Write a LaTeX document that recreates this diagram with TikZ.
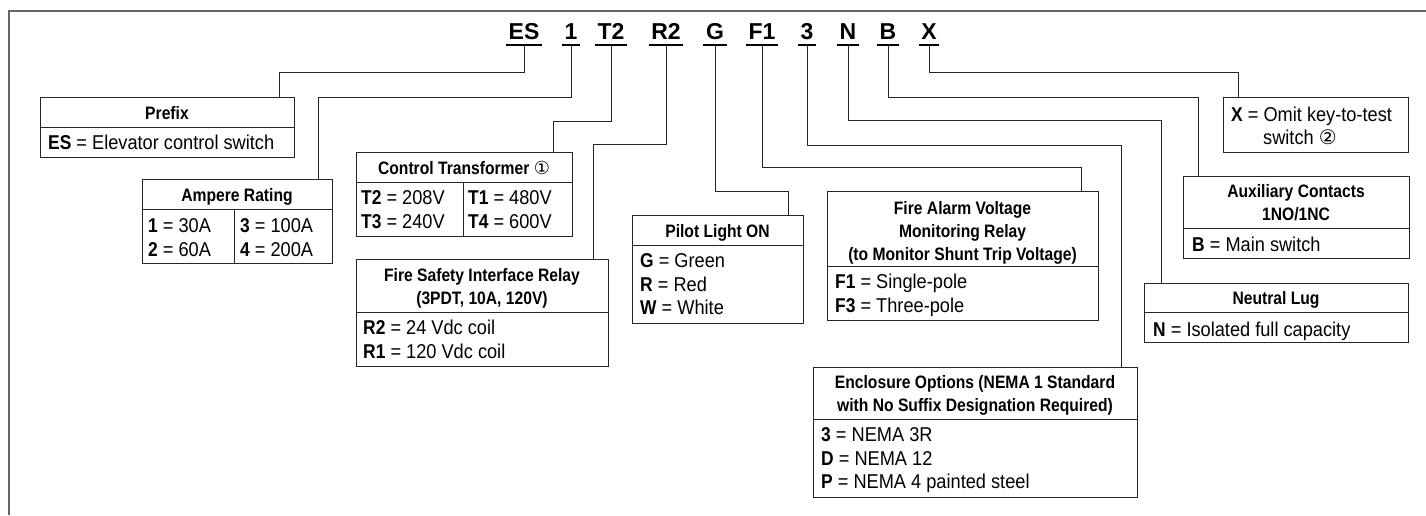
\documentclass[tikz,border=0pt]{standalone}
\usepackage{fontspec}
\setmainfont{Liberation Sans}[UprightFeatures={FakeStretch=0.91},BoldFeatures={FakeStretch=0.87}]
\newfontfamily\codefont{Liberation Sans}
\newfontfamily\circfont{DejaVu Sans}

\begin{document}
\fontsize{20}{23.5}\selectfont
\begin{tikzpicture}[x=1pt,y=-1pt,
  box/.style={draw=black!85,line width=1pt,inner sep=0pt,anchor=north west},
  head/.style={font=\fontsize{18}{23}\selectfont\bfseries,inner sep=0pt,align=center},
  item/.style={inner sep=0pt,anchor=north west,align=left},
  code/.style={font=\codefont\bfseries\fontsize{23}{26}\selectfont,anchor=south,inner xsep=2.5pt,inner ysep=5pt,text depth=0pt},
  link/.style={line width=1pt,black!85}]
  \useasboundingbox (0,0) rectangle (1426,515);
  \draw[line width=2.2pt,black!60] (1426,11) -- (9,11) -- (9,515);

  % catalog number
  \foreach \k/\x in {ES/524,1/571,T2/611,R2/666,G/715,F1/762,3/807,N/848,B/888,X/929}
    {\node[code] (c\k) at (\x,45) {\k};
     \draw[line width=2pt] (c\k.south west) -- (c\k.south east);}

  % option boxes
  \node[box,minimum width=254pt,minimum height=60pt] (prefix) at (40,97) {};
  \node[box,minimum width=190pt,minimum height=84pt] (amp) at (142,179) {};
  \node[box,minimum width=216pt,minimum height=84pt] (ct) at (356,152) {};
  \node[box,minimum width=252pt,minimum height=107pt] (fsr) at (356,259) {};
  \node[box,minimum width=171pt,minimum height=108pt] (pilot) at (632,215) {};
  \node[box,minimum width=271pt,minimum height=129pt] (alarm) at (827,191) {};
  \node[box,minimum width=324pt,minimum height=130pt] (encl) at (813,367) {};
  \node[box,minimum width=264pt,minimum height=59pt] (lug) at (1144,283) {};
  \node[box,minimum width=226pt,minimum height=82pt] (aux) at (1183,176) {};
  \node[box,minimum width=185pt,minimum height=55pt] (omit) at (1223,97) {};

  % header rules and column rules
  \draw[link] (40,127) -- (294,127);
  \draw[link] (142,209) -- (332,209); \draw[link] (234,209) -- (234,263);
  \draw[link] (356,182) -- (572,182); \draw[link] (463,182) -- (463,236);
  \draw[link] (356,312) -- (608,312);
  \draw[link] (632,245) -- (803,245);
  \draw[link] (827,266) -- (1098,266);
  \draw[link] (813,419) -- (1137,419);
  \draw[link] (1144,312) -- (1408,312);
  \draw[link] (1183,228) -- (1409,228);

  % texts
  \node[head,anchor=base] (prefixH) at (167,119.5) {Prefix};
  \node[item,anchor=base west] (prefixI) at (48,149.3) {\textbf{ES} = Elevator control switch};
  \node[head,anchor=base] (ampH) at (237,201.5) {Ampere Rating};
  \node[item] (ampL) at (148,218.8) {\textbf{1} = 30A\\\textbf{2} = 60A};
  \node[item] (ampR) at (240,218.8) {\textbf{3} = 100A\\\textbf{4} = 200A};
  \node[head,anchor=base] (ctH) at (464,174) {Control Transformer {\circfont\mdseries ①}};
  \node[item] (ctL) at (361,190.8) {\textbf{T2} = 208V\\\textbf{T3} = 240V};
  \node[item] (ctR) at (468,190.8) {\textbf{T1} = 480V\\\textbf{T4} = 600V};
  \node[head,anchor=north] (fsrH) at (482,268.5) {Fire Safety Interface Relay\\(3PDT, 10A, 120V)};
  \node[item] (fsrI) at (363,319.8) {\textbf{R2} = 24 Vdc coil\\\textbf{R1} = 120 Vdc coil};
  \node[head,anchor=base] (pilotH) at (717.5,237) {Pilot Light ON};
  \node[item] (pilotI) at (640,253.8) {\textbf{G} = Green\\\textbf{R} = Red\\\textbf{W} = White};
  \node[head,anchor=north] (alarmH) at (962.5,201.5) {Fire Alarm Voltage\\Monitoring Relay\\(to Monitor Shunt Trip Voltage)};
  \node[item] (alarmI) at (835,273.8) {\textbf{F1} = Single-pole\\\textbf{F3} = Three-pole};
  \node[head,anchor=north] (enclH) at (975,375.5) {Enclosure Options (NEMA 1 Standard\\with No Suffix Designation Required)};
  \node[item] (enclI) at (821,427.8) {\textbf{3} = NEMA 3R\\\textbf{D} = NEMA 12\\\textbf{P} = NEMA 4 painted steel};
  \node[head,anchor=base] (lugH) at (1276,304.5) {Neutral Lug};
  \node[item,anchor=base west] (lugI) at (1153,336) {\textbf{N} = Isolated full capacity};
  \node[head,anchor=north] (auxH) at (1296,184.5) {Auxiliary Contacts\\1NO/1NC};
  \node[item,anchor=base west] (auxI) at (1192,251) {\textbf{B} = Main switch};
  \node[item] (omitI) at (1231,106.8) {\textbf{X} = Omit key-to-test\\\hspace*{32pt}switch {\circfont ②}};

  % leaders from code to box
  \foreach \k/\d/\b/\x in {ES/27/prefix/279,1/52/amp/318,T2/76/ct/553,R2/99/fsr/593,G/146/pilot/788,
      F1/122/alarm/1081,3/100/encl/1121,N/75/lug/1161,B/52/aux/1198,X/27/omit/1238}
    \draw[link] (c\k.south) -- ++(0,\d) -| (\b.north -| \x,0);
\end{tikzpicture}
\end{document}
